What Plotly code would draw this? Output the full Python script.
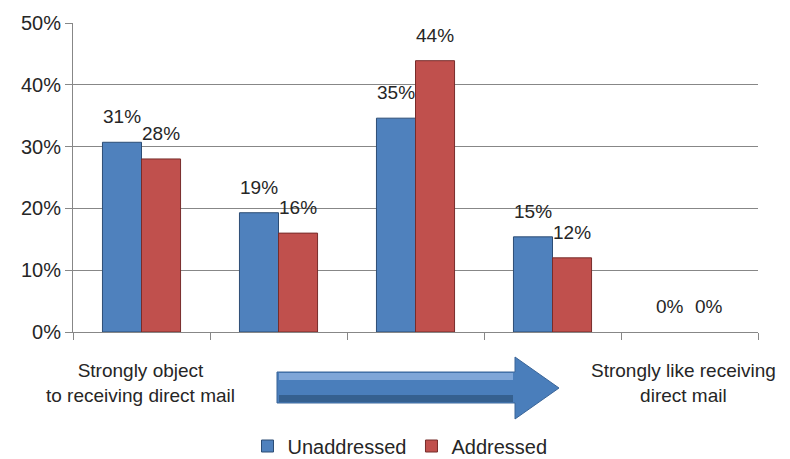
import plotly.graph_objects as go

# ---- data ----
categories = ["Strongly object", "Object", "Neutral", "Like", "Strongly like"]
unaddressed = [0.307, 0.193, 0.346, 0.154, 0.0]
addressed = [0.280, 0.160, 0.439, 0.120, 0.0]
series_names = ["Unaddressed", "Addressed"]
y_ticks = [0, 0.1, 0.2, 0.3, 0.4, 0.5]
left_label = "Strongly object<br>to receiving direct mail"
right_label = "Strongly like receiving<br>direct mail"

W, H = 790, 459
L, R, T, B = 73, 32, 23, 127
PW, PH = W - L - R, H - T - B
FONT = "Liberation Sans, Arial, sans-serif"
TXT = "#262626"
GRID = "#878787"


def px(x):
    return (x - L) / PW


def py(y):
    return (H - B - y) / PH


blue, blue_line = "#4F81BD", "#2c4d75"
red, red_line = "#C0504D", "#772c2a"

fig = go.Figure()
fig.add_trace(go.Bar(x=categories, y=unaddressed, name=series_names[0],
                     marker=dict(color=blue, line=dict(color=blue_line,
                                 width=[1 if v > 0 else 0 for v in unaddressed]))))
fig.add_trace(go.Bar(x=categories, y=addressed, name=series_names[1],
                     marker=dict(color=red, line=dict(color=red_line,
                                 width=[1 if v > 0 else 0 for v in addressed]))))

# data labels
annotations = []
bar_w = PW / len(categories) * 0.57 / 2
for vals, shift in ((unaddressed, -bar_w / 2), (addressed, bar_w / 2)):
    for i, v in enumerate(vals):
        annotations.append(dict(x=i, y=v, xref="x", yref="y", text=f"{v:.0%}",
                                showarrow=False, xshift=shift, yshift=13,
                                yanchor="bottom", font=dict(size=19, color=TXT, family=FONT)))

annotations.append(dict(x=px(140), y=py(383), xref="paper", yref="paper", text=left_label,
                        showarrow=False, xanchor="center", yanchor="middle",
                        font=dict(size=19, color=TXT, family=FONT)))
annotations.append(dict(x=px(683), y=py(383), xref="paper", yref="paper", text=right_label,
                        showarrow=False, xanchor="center", yanchor="middle",
                        font=dict(size=19, color=TXT, family=FONT)))


def path(points):
    return "M " + " L ".join(f"{px(a):.5f},{py(b):.5f}" for a, b in points) + " Z"


arrow = [(277, 372), (515, 372), (515, 357), (559, 388), (515, 419), (515, 403), (277, 403)]
top_hl = [(279, 373), (513, 373), (513, 380), (279, 380)]
bot_sh = [(279, 395), (513, 395), (513, 402), (279, 402)]
shapes = [
    dict(type="path", xref="paper", yref="paper", path=path(arrow),
         fillcolor="#4a7ebb", line=dict(color="#3a6598", width=1)),
    dict(type="path", xref="paper", yref="paper", path=path(top_hl),
         fillcolor="#7fa6d8", line=dict(width=0)),
    dict(type="path", xref="paper", yref="paper", path=path(bot_sh),
         fillcolor="#35608f", line=dict(width=0)),
]

fig.update_layout(
    width=W, height=H,
    margin=dict(l=L, r=R, t=T, b=B, autoexpand=False),
    paper_bgcolor="white", plot_bgcolor="white",
    barmode="group", bargap=0.43, bargroupgap=0,
    font=dict(family=FONT, size=19, color=TXT),
    showlegend=True,
    legend=dict(orientation="h", x=px(400), xanchor="center", y=py(446), yanchor="middle",
                font=dict(size=20, color=TXT, family=FONT), itemwidth=30,
                bgcolor="rgba(0,0,0,0)"),
    annotations=annotations,
    shapes=shapes,
)
fig.update_xaxes(type="category", showticklabels=False, tickson="boundaries",
                 ticks="outside", ticklen=7, tickcolor=GRID, showline=True,
                 linecolor=GRID, linewidth=1, showgrid=False, fixedrange=True)
fig.update_yaxes(range=[0, 0.5], tickvals=y_ticks, tickformat=".0%", ticks="outside",
                 ticklen=7, tickcolor=GRID, showline=True, linecolor=GRID, linewidth=1,
                 showgrid=True, gridcolor=GRID, gridwidth=1, zeroline=False,
                 tickfont=dict(size=20, color=TXT, family=FONT), fixedrange=True)

fig.write_html("out.html")
